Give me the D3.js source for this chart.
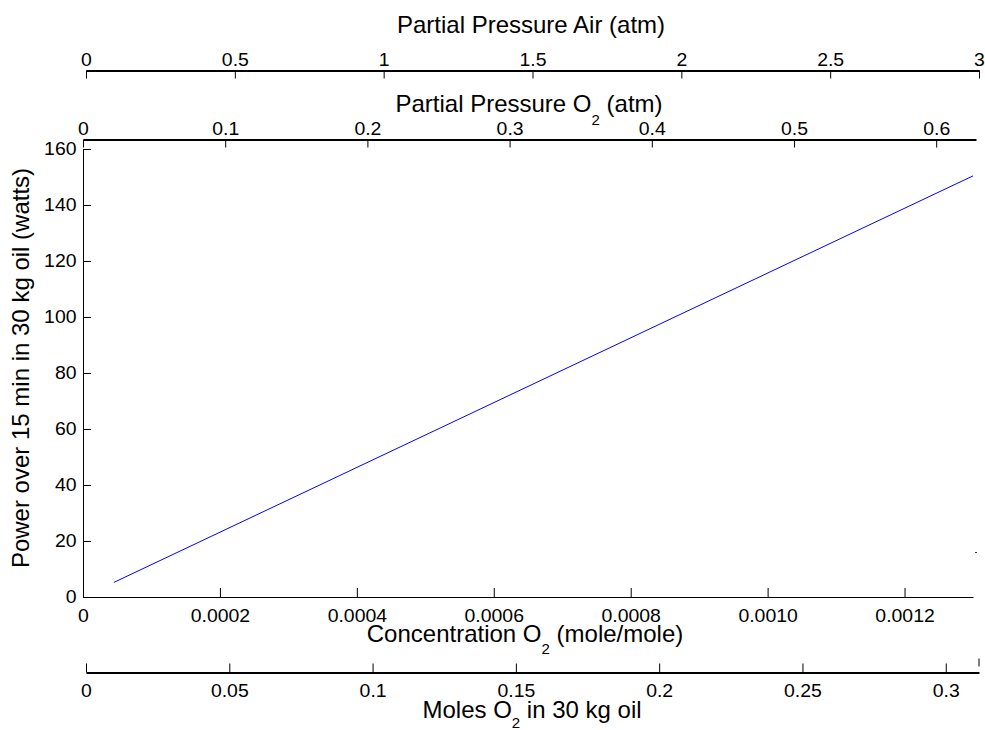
<!DOCTYPE html>
<html>
<head>
<meta charset="utf-8">
<script src="https://cdn.jsdelivr.net/npm/d3@7"></script>
<style>
body { margin: 0; background: #fff; }
text { font-family: "Liberation Sans", Arial, Helvetica, sans-serif; fill: #000; }
.axis path, .axis line { stroke: #000; }
</style>
</head>
<body>
<div id="chart"></div>
<script>
// values
var concentration = [0.000045, 0.0013];
var power = [5.2, 150.4];

var concTicks = [0, 0.0002, 0.0004, 0.0006, 0.0008, 0.0010, 0.0012];
var powerTicks = [0, 20, 40, 60, 80, 100, 120, 140, 160];
var o2Ticks = [0, 0.1, 0.2, 0.3, 0.4, 0.5, 0.6];
var airTicks = [0, 0.5, 1, 1.5, 2, 2.5, 3];
var molesTicks = [0, 0.05, 0.1, 0.15, 0.2, 0.25, 0.3];

var width = 985, height = 730;

var svg = d3.select("#chart").append("svg")
    .attr("width", width)
    .attr("height", height);

var x = d3.scaleLinear().domain([0, 0.0013]).range([83, 973]);
var y = d3.scaleLinear().domain([0, 160]).range([597, 149]);
var xO2 = d3.scaleLinear().domain([0, 0.628]).range([83, 976]);
var xAir = d3.scaleLinear().domain([0, 3]).range([86, 979]);
var xMoles = d3.scaleLinear().domain([0, 0.3116]).range([86, 979]);

function styleTicks(g, greyEnds) {
  g.select(".domain").attr("stroke-width", 1);
  g.selectAll(".tick text")
    .style("font-size", "18px")
    .attr("transform", "scale(1.08,1)");
  if (greyEnds) {
    var lines = g.selectAll(".tick line").nodes();
    d3.select(lines[0]).attr("stroke", "#aaa");
  }
}

// main bottom axis
svg.append("g")
    .attr("class", "axis")
    .attr("transform", "translate(0,597)")
    .call(d3.axisBottom(x).tickValues(concTicks).tickSize(-9).tickSizeOuter(0).tickPadding(12)
      .tickFormat(function(d) { return d === 0 ? "0" : d3.format(".4f")(d); }))
    .call(styleTicks, false);

// left axis
svg.append("g")
    .attr("class", "axis")
    .attr("transform", "translate(83,0)")
    .call(d3.axisLeft(y).tickValues(powerTicks).tickSize(-8).tickSizeOuter(0).tickPadding(6))
    .call(styleTicks, false);

// O2 partial pressure axis
svg.append("g")
    .attr("class", "axis")
    .attr("transform", "translate(0,139.5)")
    .call(d3.axisTop(xO2).tickValues(o2Ticks).tickSize(-8).tickSizeOuter(0).tickPadding(5)
      .tickFormat(d3.format("")))
    .call(styleTicks, false)
    .select(".domain").attr("stroke-width", 2);

// air partial pressure axis
var airAxis = svg.append("g")
    .attr("class", "axis")
    .attr("transform", "translate(0,70.5)")
    .call(d3.axisTop(xAir).tickValues(airTicks).tickSize(-8).tickSizeOuter(0).tickPadding(5)
      .tickFormat(d3.format("")))
    .call(styleTicks, true);
airAxis.select(".domain").attr("stroke-width", 2);
d3.select(airAxis.selectAll(".tick line").nodes()[airTicks.length - 1]).attr("stroke", "#aaa");

// moles axis
var molesAxis = svg.append("g")
    .attr("class", "axis")
    .attr("transform", "translate(0,672.5)")
    .call(d3.axisBottom(xMoles).tickValues(molesTicks).tickSize(-9).tickSizeOuter(0).tickPadding(12)
      .tickFormat(d3.format("")))
    .call(styleTicks, true);
molesAxis.select(".domain").attr("stroke-width", 2);
molesAxis.append("line")
    .attr("x1", xMoles.range()[1]).attr("x2", xMoles.range()[1])
    .attr("y1", -14).attr("y2", -6)
    .attr("stroke", "#bbb");

// data line
var line = d3.line()
    .x(function(d, i) { return x(concentration[i]); })
    .y(function(d) { return y(d); });

svg.append("path")
    .datum(power)
    .attr("fill", "none")
    .attr("stroke", "#0000ff")
    .attr("stroke-width", 1)
    .attr("d", line);

// little stray mark at the right edge
svg.append("line")
    .attr("x1", 975).attr("x2", 977).attr("y1", 552.5).attr("y2", 552.5)
    .attr("stroke", "#333");

// titles; an array part is a subscript
function addTitle(cx, cy, parts, rot, subDy) {
  subDy = subDy || 12;
  var t = svg.append("text")
      .attr("text-anchor", "middle")
      .style("font-size", "24px")
      .attr("transform", "translate(" + cx + "," + cy + ")" + (rot ? " rotate(-90)" : ""));
  var back = 0;
  parts.forEach(function(p) {
    if (Array.isArray(p)) {
      t.append("tspan").attr("dy", subDy).style("font-size", "15px").text(p[0]);
      back = -subDy;
    } else {
      t.append("tspan").attr("dy", back).text(p);
      back = 0;
    }
  });
}

addTitle(531, 32.5, ["Partial Pressure Air (atm)"]);
addTitle(529, 111.5, ["Partial Pressure O", ["2"], " (atm)"], false, 13);
addTitle(525, 641.5, ["Concentration O", ["2"], " (mole/mole)"], false, 12.5);
addTitle(532, 718, ["Moles O", ["2"], " in 30 kg oil"], false, 10);
addTitle(29, 368, ["Power over 15 min in 30 kg oil (watts)"], true);
</script>
</body>
</html>
